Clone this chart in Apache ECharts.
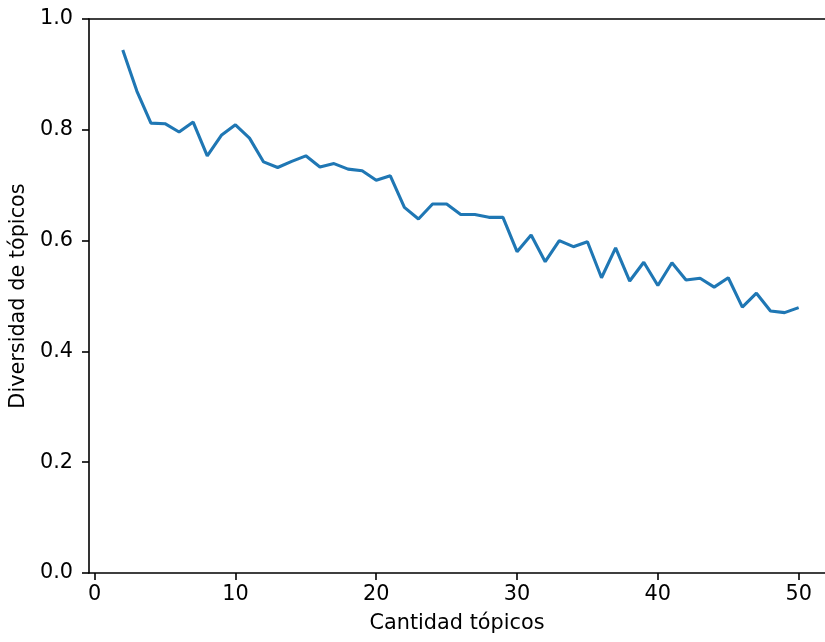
<!DOCTYPE html>
<html>
<head>
<meta charset="utf-8">
<script src="https://cdn.jsdelivr.net/npm/echarts@6/dist/echarts.min.js"></script>
<style>html,body{margin:0;padding:0;background:#fff;}#c{width:825px;height:642px;}</style>
</head>
<body>
<div id="c"></div>
<script>
const topics = [2,3,4,5,6,7,8,9,10,11,12,13,14,15,16,17,18,19,20,21,22,23,24,25,26,27,28,29,30,31,32,33,34,35,36,37,38,39,40,41,42,43,44,45,46,47,48,49,50];
const diversity = [0.944,0.870,0.812,0.811,0.796,0.814,0.753,0.790,0.809,0.785,0.742,0.732,0.743,0.753,0.733,0.739,0.729,0.726,0.709,0.717,0.660,0.639,0.666,0.666,0.647,0.647,0.642,0.642,0.580,0.610,0.562,0.600,0.589,0.598,0.533,0.587,0.527,0.561,0.519,0.560,0.529,0.532,0.516,0.533,0.480,0.505,0.473,0.470,0.479];
const xTicks = [0,10,20,30,40,50];
const yTicks = [0,0.2,0.4,0.6,0.8,1.0];

const font = 'DejaVu Sans';
const fs = 20.8;
const chart = echarts.init(document.getElementById('c'), null, {renderer:'canvas'});
chart.setOption({
  animation: false,
  backgroundColor: '#fff',
  grid: {left: 88, top: 19, bottom: 69, right: 0, show: false},
  xAxis: [{
    type: 'value', min: -0.4, max: 51.87,
    name: 'Cantidad tópicos', nameLocation: 'middle', nameGap: 40,
    nameTextStyle: {fontFamily: font, fontSize: fs, color: '#000'},
    axisLine: {show: true, onZero: false, lineStyle: {color: '#000', width: 1.6}},
    axisTick: {show: true, length: 7, lineStyle: {color: '#000', width: 1.6}, customValues: xTicks},
    axisLabel: {fontFamily: font, fontSize: fs, color: '#000', margin: 11, customValues: xTicks, formatter: v => String(v)},
    splitLine: {show: false}
  }, {
    type: 'value', position: 'top', min: -0.4, max: 51.87,
    axisLine: {show: true, onZero: false, lineStyle: {color: '#000', width: 1.6}},
    axisTick: {show: false}, axisLabel: {show: false}, splitLine: {show: false}
  }],
  yAxis: {
    type: 'value', min: 0, max: 1, interval: 0.2,
    name: 'Diversidad de tópicos', nameLocation: 'middle', nameGap: 54,
    nameTextStyle: {fontFamily: font, fontSize: fs, color: '#000'},
    axisLine: {show: true, onZero: false, lineStyle: {color: '#000', width: 1.6}},
    axisTick: {show: true, length: 7, lineStyle: {color: '#000', width: 1.6}},
    axisLabel: {fontFamily: font, fontSize: fs, color: '#000', margin: 16, formatter: v => v.toFixed(1)},
    splitLine: {show: false}
  },
  series: [{
    type: 'line',
    xAxisIndex: 0,
    data: topics.map((t, i) => [t, diversity[i]]),
    showSymbol: false,
    symbol: 'none',
    lineStyle: {color: '#1f77b4', width: 3.1},
    itemStyle: {color: '#1f77b4'}
  }]
});
</script>
</body>
</html>
